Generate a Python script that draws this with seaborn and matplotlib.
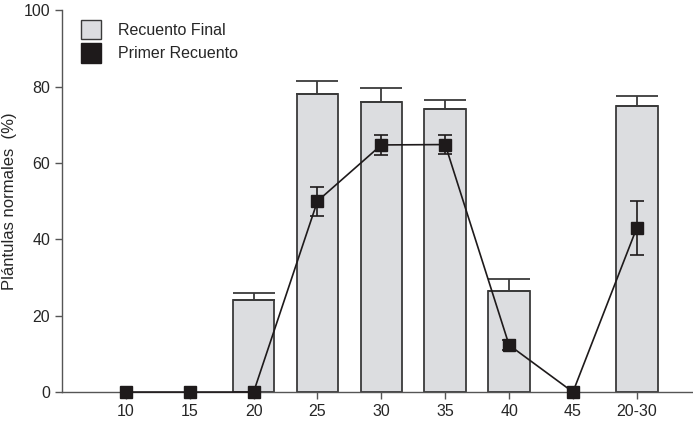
import numpy as np
import pandas as pd
import seaborn as sb
from matplotlib import pyplot as plt
from matplotlib.patches import Patch

categorias = ['10', '15', '20', '25', '30', '35', '40', '45', '20-30']
recuento_final = [0, 0, 24, 78, 76, 74, 26.5, 0, 75]
recuento_final_err = [0, 0, 2, 3.5, 3.5, 2.5, 3, 0, 2.5]
primer_recuento = [0, 0, 0, 50, 64.7, 64.8, 12.3, 0, 43]
primer_recuento_err = [0, 0, 0, 3.8, 2.6, 2.6, 1.2, 0, 7]

sb.set_style('ticks')
plt.rcParams['font.family'] = ['Liberation Sans', 'DejaVu Sans']

df = pd.DataFrame({'temp': categorias, 'final': recuento_final})
pos = np.arange(len(categorias))
rf = np.array(recuento_final)
rf_err = np.array(recuento_final_err)
pr = np.array(primer_recuento)
pr_err = np.array(primer_recuento_err)

fig = plt.figure(figsize=(6.93, 4.22), dpi=100)
ax = fig.add_axes([0.0895, 0.071, 0.9105, 0.905])

sb.barplot(data=df, x='temp', y='final', order=categorias, color='#dcdde0',
           edgecolor='#3a3a3a', linewidth=1.3, width=0.65, saturation=1, ax=ax)
# bars at zero should not leave an outline on the axis
for p, v in zip(ax.patches, recuento_final):
    if v == 0:
        p.set_visible(False)

# error bars for the bars: only the upper half, and only where there is a bar
m = rf > 0
ax.errorbar(pos[m], rf[m], yerr=[np.zeros(m.sum()), rf_err[m]],
            fmt='none', ecolor='#3a3a3a', elinewidth=1.3, capsize=15, capthick=1.3, zorder=3)

# line with markers, error bars only where there is spread
ax.plot(pos, pr, '-s', color='#1e1a1b', ms=9, lw=1.2, zorder=5, clip_on=False)
k = pr_err > 0
ax.errorbar(pos[k], pr[k], yerr=pr_err[k], fmt='none', ecolor='#1e1a1b',
            elinewidth=1.2, capsize=5, capthick=1.2, zorder=4)

ax.set_xlim(-1, 8.88)
ax.set_ylim(0, 100)
ax.set_yticks([0, 20, 40, 60, 80, 100])
ax.set_xlabel('')
ax.set_ylabel('Plántulas normales  (%)', size=12)
ax.yaxis.set_label_coords(-0.072, 0.5)
ax.tick_params(labelsize=11.5, width=1, length=5, color='#555555')
for s in ['top', 'right']:
    ax.spines[s].set_visible(False)
for s in ['left', 'bottom']:
    ax.spines[s].set_color('#555555')
    ax.spines[s].set_linewidth(1)

handles = [Patch(facecolor='#dcdde0', edgecolor='#3a3a3a', label='Recuento Final'),
           Patch(facecolor='#1e1a1b', edgecolor='#1e1a1b', label='Primer Recuento')]
ax.legend(handles=handles, loc='upper left', bbox_to_anchor=(0.008, 1.012), frameon=False,
          fontsize=11.5, handlelength=1.2, handleheight=1.5, handletextpad=1.1,
          labelspacing=0.25)

plt.savefig('out.png', dpi=100)
